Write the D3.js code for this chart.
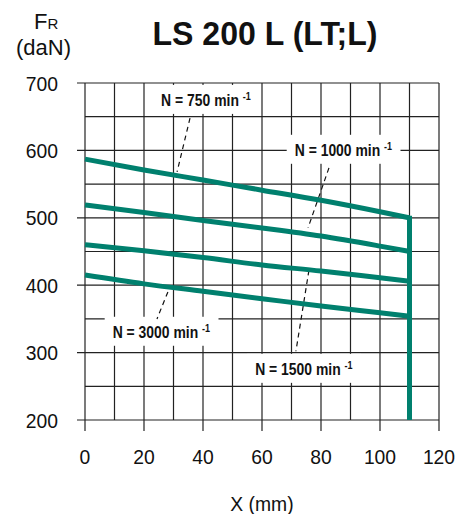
<!DOCTYPE html>
<html>
<head>
<meta charset="utf-8">
<script src="https://cdn.jsdelivr.net/npm/d3@7"></script>
<style>
  html, body { margin: 0; padding: 0; background: #fff; }
  svg { display: block; }
</style>
</head>
<body>
<svg id="chart" width="461" height="514"></svg>
<script>
// ---- data ----
const xPositions = [0, 20, 40, 60, 80, 100, 110];
const speeds = ["750", "1000", "1500", "3000"];
const force750  = [587, 571, 556, 541, 526, 509, 500];
const force1000 = [519, 508, 496, 485, 473, 458, 450];
const force1500 = [460, 451, 441, 430, 421, 411, 406];
const force3000 = [415, 402, 391, 380, 369, 359, 354];
const limitX = 110;
const limitForce = [500, 200];
const xTicks = [0, 20, 40, 60, 80, 100, 120];
const yTicks = [200, 300, 400, 500, 600, 700];
const title = "LS 200 L (LT;L)";
// label anchor (center x, baseline y) and leader line (from, to) in data units
const labelX = [41, 87.6, 74.2, 25.9];
const labelY = [666, 592, 267, 322];
const leaderFrom = [[35.6, 648], [82.7, 574], [75.9, 422], [28.1, 390]];
const leaderTo   = [[31.2, 568], [75.6, 485], [71.5, 302], [24.4, 350]];

const seriesValues = [force750, force1000, force1500, force3000];

// ---- layout ----
const svg = d3.select("#chart");
const x = d3.scaleLinear().domain([0, 120]).range([85, 439]);
const y = d3.scaleLinear().domain([200, 700]).range([420, 83]);
const teal = "#00806e";
const gridColor = "#222";
const font = "'Liberation Sans', Arial, sans-serif";

function condense(sel, factor) {
  sel.each(function() {
    const w = this.getComputedTextLength();
    d3.select(this).attr("textLength", w * factor).attr("lengthAdjust", "spacingAndGlyphs");
  });
}

// grid verticals
const gx = d3.range(0, 121, 10);
svg.append("g").selectAll("line").data(gx).join("line")
  .attr("x1", d => x(d)).attr("x2", d => x(d))
  .attr("y1", y(700))
  .attr("y2", d => d % 20 === 0 ? y(200) + 11 : y(200))
  .attr("stroke", gridColor).attr("stroke-width", 1.2);

// grid horizontals
const gy = d3.range(200, 701, 50);
svg.append("g").selectAll("line").data(gy).join("line")
  .attr("y1", d => y(d)).attr("y2", d => y(d))
  .attr("x1", d => d % 100 === 0 ? x(0) - 8 : x(0))
  .attr("x2", x(120))
  .attr("stroke", gridColor).attr("stroke-width", 1.2);

// y tick labels
svg.append("g").selectAll("text").data(yTicks).join("text")
  .attr("x", 58).attr("y", d => y(d)).attr("dy", "0.36em")
  .attr("text-anchor", "end")
  .attr("font-family", font).attr("font-size", 21).attr("fill", "#111")
  .text(d => d)
  .call(condense, 0.92);

// x tick labels
svg.append("g").selectAll("text").data(xTicks).join("text")
  .attr("x", d => x(d)).attr("y", 464)
  .attr("text-anchor", "middle")
  .attr("font-family", font).attr("font-size", 21).attr("fill", "#111")
  .text(d => d)
  .call(condense, 0.92);

// axis titles
svg.append("text").attr("x", x(60)).attr("y", 511)
  .attr("text-anchor", "middle")
  .attr("font-family", font).attr("font-size", 21).attr("fill", "#111")
  .text("X (mm)")
  .call(condense, 0.92);

const fr = svg.append("text").attr("x", 34).attr("y", 29)
  .attr("font-family", font).attr("fill", "#111");
fr.append("tspan").attr("font-size", 22).text("F");
fr.append("tspan").attr("font-size", 15).text("R");
svg.append("text").attr("x", 16).attr("y", 55)
  .attr("font-family", font).attr("font-size", 22).attr("fill", "#111")
  .text("(daN)");

// title
svg.append("text").attr("x", 265).attr("y", 45)
  .attr("text-anchor", "middle")
  .attr("font-family", font).attr("font-weight", "bold").attr("font-size", 33)
  .attr("fill", "#111")
  .attr("textLength", 225).attr("lengthAdjust", "spacingAndGlyphs")
  .text(title);

// labels with white background (drawn over grid)
const squeeze = 0.82;
const lg = svg.append("g").selectAll("g").data(speeds).join("g")
  .attr("transform", (d, i) => `translate(${x(labelX[i])},${y(labelY[i])}) scale(${squeeze},1)`);
const rects = lg.append("rect").attr("fill", "#fff");
const texts = lg.append("text")
  .attr("x", 0).attr("y", 0)
  .attr("text-anchor", "middle")
  .attr("font-family", font).attr("font-weight", "bold").attr("font-size", 17)
  .attr("fill", "#111");
texts.append("tspan").text(d => "N = " + d + " min ");
texts.append("tspan").attr("font-size", 11).attr("dy", -6).text("-1");
texts.each(function() {
  const b = this.getBBox();
  d3.select(this.parentNode).select("rect")
    .attr("x", b.x - 8 / squeeze).attr("y", -21)
    .attr("width", b.width + 16 / squeeze).attr("height", 29);
});

// leader lines
svg.append("g").selectAll("line").data(speeds).join("line")
  .attr("x1", (d, i) => x(leaderFrom[i][0])).attr("y1", (d, i) => y(leaderFrom[i][1]))
  .attr("x2", (d, i) => x(leaderTo[i][0])).attr("y2", (d, i) => y(leaderTo[i][1]))
  .attr("stroke", "#111").attr("stroke-width", 1.2).attr("stroke-dasharray", "5,4");

// curves
const line = d3.line().x(d => x(d[0])).y(d => y(d[1])).curve(d3.curveMonotoneX);
svg.append("g").selectAll("path").data(seriesValues).join("path")
  .attr("d", vals => line(xPositions.map((xv, i) => [xv, vals[i]])))
  .attr("fill", "none").attr("stroke", teal).attr("stroke-width", 5)
  .attr("stroke-linejoin", "miter");

// limit vertical line
svg.append("line")
  .attr("x1", x(limitX)).attr("x2", x(limitX))
  .attr("y1", y(limitForce[0]) - 2).attr("y2", y(limitForce[1]))
  .attr("stroke", teal).attr("stroke-width", 5);
</script>
</body>
</html>
